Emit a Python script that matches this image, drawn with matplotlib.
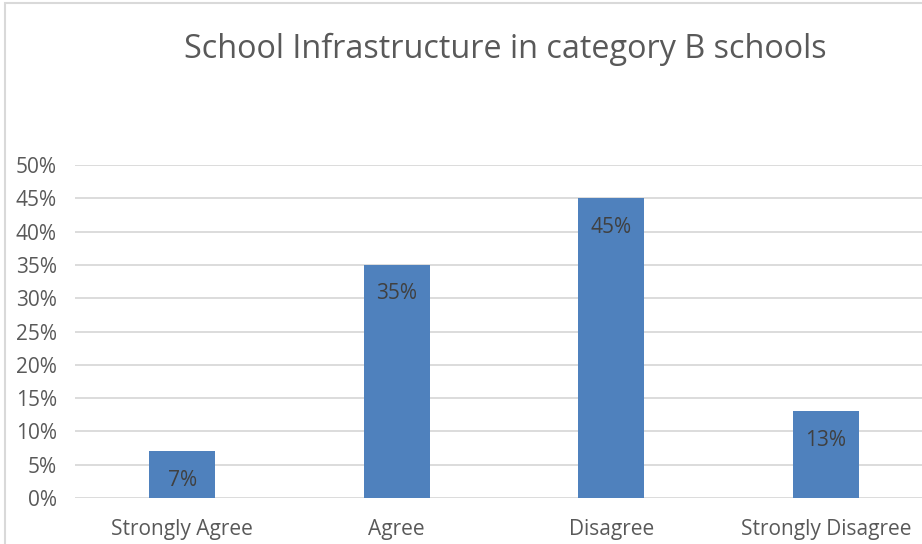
import matplotlib.pyplot as plt
from matplotlib.patches import Rectangle
from matplotlib.ticker import PercentFormatter

# survey responses
categories = ["Strongly Agree", "Agree", "Disagree", "Strongly Disagree"]
shares = [0.07, 0.35, 0.45, 0.13]
yticks = [0, 0.05, 0.10, 0.15, 0.20, 0.25, 0.30, 0.35, 0.40, 0.45, 0.50]

plt.rcParams['font.family'] = ['Open Sans', 'DejaVu Sans']

fig = plt.figure(figsize=(9.22, 5.44), dpi=100)
ax = fig.add_axes([75 / 922, 46 / 544, 858 / 922, 333 / 544])

x = range(len(categories))
bars = ax.bar(x, shares, width=0.31, color='#4F81BD', zorder=3)

ax.set_xlim(-0.5, len(categories) - 0.5)
ax.set_ylim(0, 0.5)
ax.set_yticks(yticks)
ax.yaxis.set_major_formatter(PercentFormatter(1.0, decimals=0))
ax.set_xticks(list(x))
ax.set_xticklabels(categories)
ax.tick_params(axis='both', length=0, labelsize=15, colors='#595959')
ax.tick_params(axis='y', pad=13)
ax.tick_params(axis='x', pad=15)
ax.grid(axis='y', color='#d9d9d9', linewidth=1.3, zorder=0)
for s in ax.spines.values():
    s.set_visible(False)

# value labels inside the top of each bar
for rect, v in zip(bars, shares):
    ax.annotate(f"{round(v * 100)}%",
                xy=(rect.get_x() + rect.get_width() / 2, v),
                xytext=(0, -29), textcoords='offset pixels',
                ha='center', va='center', fontsize=15, color='#404040', zorder=4)

fig.text(505 / 922, 1 - 49 / 544, "School Infrastructure in category B schools",
         ha='center', va='center', fontsize=23.3, color='#595959')

# chart border
fig.patches.append(Rectangle((5 / 922, -0.1), 1.2, 1 - 3 / 544 + 0.1,
                             transform=fig.transFigure, fill=False,
                             edgecolor='#d9d9d9', linewidth=1.5))

fig.savefig("out.png", dpi=100)
